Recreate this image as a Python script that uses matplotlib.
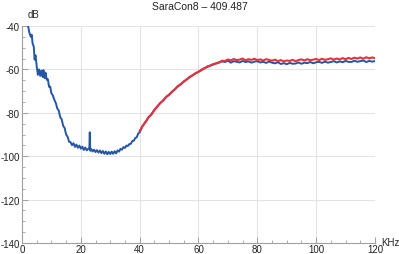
import matplotlib
matplotlib.use("Agg")
import matplotlib.pyplot as plt
from matplotlib.ticker import MultipleLocator

plt.rcParams["font.family"] = ["Liberation Sans", "DejaVu Sans"]

TITLE = "SaraCon8 \u2013 409.487"

# blue trace: full sweep (kHz, dB)
blue_khz = [
    2.0, 2.5, 3.0, 3.3, 3.6, 4.0, 4.3, 4.6, 5.0, 5.4, 5.8, 6.2, 6.6, 7.0, 7.3,
    7.7, 8.0, 8.4, 8.8, 9.2, 9.6, 10.0, 10.5, 11.0, 11.5, 12.0, 12.5, 13.0,
    13.5, 14.0, 14.5, 15.0, 15.5, 16.0, 16.5, 17.0, 17.5, 18.0, 18.5, 19.0,
    19.5, 20.0, 20.5, 21.0, 21.5, 22.0, 22.5, 22.9, 23.05, 23.2, 23.6, 24.0,
    24.5, 25.0, 25.5, 26.0, 26.5, 27.0, 27.5, 28.0, 28.5, 29.0, 29.5, 30.0,
    30.5, 31.0, 31.5, 32.0, 32.5, 33.0, 33.5, 34.0, 34.5, 35.0, 35.5, 36.0,
    36.5, 37.0, 37.5, 38.0, 38.5, 39.0, 39.5, 40.0,
    41, 42, 43, 44, 45, 46, 47, 48, 49, 50, 51, 52, 53, 54, 55, 56, 57, 58,
    59, 60, 61, 62, 63, 64, 65, 66, 67, 68, 69, 70, 71, 72, 73, 74, 75, 76,
    77, 78, 79, 80, 81, 82, 83, 84, 85, 86, 87, 88, 89, 90, 91, 92, 93, 94,
    95, 96, 97, 98, 99, 100, 101, 102, 103, 104, 105, 106, 107, 108, 109, 110,
    111, 112, 113, 114, 115, 116, 117, 118, 119, 120,
]
blue_db = [
    -39.5, -43.0, -45.0, -44.0, -48.0, -49.5, -55.5, -53.5, -58.5, -62.5,
    -60.0, -63.0, -60.5, -63.5, -60.3, -64.0, -61.5, -64.8, -64.5, -68.0,
    -68.0, -71.0, -72.0, -74.0, -75.5, -78.0, -79.0, -82.0, -83.0, -86.0,
    -87.0, -90.0, -91.0, -93.3, -93.5, -94.9, -94.0, -95.7, -94.6, -96.1,
    -95.1, -96.5, -95.6, -97.1, -96.0, -97.3, -96.6, -96.5, -89.0, -97.5,
    -96.8, -97.8, -97.0, -98.1, -97.2, -98.3, -97.4, -98.6, -97.6, -98.9,
    -97.8, -99.1, -98.0, -99.0, -97.9, -98.9, -97.7, -98.7, -97.3, -97.9,
    -96.6, -97.0, -95.8, -96.2, -95.1, -95.3, -94.4, -94.3, -93.0, -92.9,
    -91.6, -91.3, -89.6, -89.0,
    -86.2, -84.1, -82.2, -80.6, -78.8, -77.0, -75.6, -74.2, -72.8, -71.6,
    -70.4, -69.0, -67.9, -66.7, -65.7, -64.5, -63.7, -62.6, -61.9, -61.0,
    -60.4, -59.4, -58.9, -58.2, -57.8, -57.2,
    -56.7, -56.3, -56.6, -56.0, -56.9, -56.2, -56.5, -56.8, -56.1, -56.6,
    -56.3, -56.9, -56.4, -56.2, -56.8, -56.5, -57.0, -56.4, -56.9, -57.2,
    -56.7, -57.5, -57.1, -57.6, -57.0, -57.4, -57.3, -56.8, -57.4, -56.9,
    -57.1, -56.6, -57.2, -56.7, -56.5, -57.0, -56.4, -56.9, -56.6, -56.2,
    -56.8, -56.3, -56.7, -56.1, -56.5, -56.6, -56.0, -56.5, -56.2, -55.9,
    -56.6, -56.1, -56.4, -56.2,
]

# red trace: upper band only (kHz, dB)
red_khz = [
    40, 41, 42, 43, 44, 45, 46, 47, 48, 49, 50, 51, 52, 53, 54, 55, 56, 57,
    58, 59, 60, 61, 62, 63, 64, 65, 66, 67, 68, 69, 70, 71, 72, 73, 74, 75,
    76, 77, 78, 79, 80, 81, 82, 83, 84, 85, 86, 87, 88, 89, 90, 91, 92, 93,
    94, 95, 96, 97, 98, 99, 100, 101, 102, 103, 104, 105, 106, 107, 108, 109,
    110, 111, 112, 113, 114, 115, 116, 117, 118, 119, 120,
]
red_db = [
    -88.4, -86.0, -84.3, -82.0, -80.8, -78.6, -77.2, -75.4, -74.4, -72.6,
    -71.8, -70.2, -69.2, -67.6, -66.9, -65.5, -64.7, -63.4, -62.8, -61.7,
    -61.2, -60.1, -59.6, -58.6, -58.3, -57.5, -57.3,
    -56.9, -56.0, -56.2, -55.4, -55.9, -55.2, -55.7, -55.5, -55.0, -55.8,
    -55.3, -55.6, -55.1, -55.7, -55.4, -55.9, -55.3, -55.6, -56.0, -55.5,
    -56.2, -55.7, -56.3, -55.9, -56.1, -55.6, -56.2, -55.7, -55.4, -55.9,
    -55.3, -55.8, -55.5, -55.2, -55.7, -55.1, -55.6, -55.3, -54.9, -55.5,
    -55.0, -55.4, -54.8, -55.3, -54.7, -55.2, -54.6, -55.0, -54.5, -55.1,
    -54.4, -54.9, -54.5, -54.8,
]

X_TICKS = [0, 20, 40, 60, 80, 100, 120]
Y_TICKS = [-140, -120, -100, -80, -60, -40]

BLUE = "#2456a6"
RED = "#e8313a"
GRID = "#e3e3e3"
AXIS = "#a0a0a0"

fig = plt.figure(figsize=(3.99, 2.55), dpi=100)
ax = fig.add_axes([0.0551, 0.0431, 0.8847, 0.851])

ax.plot(blue_khz, blue_db, color=BLUE, lw=1.4, zorder=3)
ax.plot(red_khz, red_db, color=RED, lw=1.5, zorder=4)

ax.set_xlim(0, 120)
ax.set_ylim(-140, -40)
ax.set_xticks(X_TICKS)
ax.set_yticks(Y_TICKS)
ax.set_yticklabels([str(v) for v in Y_TICKS])
ax.xaxis.set_minor_locator(MultipleLocator(5))
ax.yaxis.set_minor_locator(MultipleLocator(5))

for v in X_TICKS[1:-1]:
    ax.axvline(v, color=GRID, lw=0.8, zorder=1)
for v in Y_TICKS[1:]:
    ax.axhline(v, color=GRID, lw=0.8, zorder=1)

for side in ("top", "right"):
    ax.spines[side].set_visible(False)
for side in ("left", "bottom"):
    ax.spines[side].set_color(AXIS)
    ax.spines[side].set_linewidth(0.8)

ax.tick_params(which="major", direction="in", length=4, width=0.7,
               color=AXIS, labelsize=7, labelcolor="#222222", pad=1.5)
ax.tick_params(axis="x", which="major", pad=0.5)
ax.tick_params(which="minor", direction="in", length=2.2, width=0.6,
               color=AXIS)

ax.text(0.017, 1.03, "dB", transform=ax.transAxes, fontsize=7,
        color="#222222", ha="left", va="bottom")
ax.text(1.017, 0.005, "KHz", transform=ax.transAxes, fontsize=7,
        color="#222222", ha="left", va="center")
fig.text(0.5, 0.993, TITLE, fontsize=7.5, color="#222222",
         ha="center", va="top")

fig.savefig("out.png", dpi=100)
